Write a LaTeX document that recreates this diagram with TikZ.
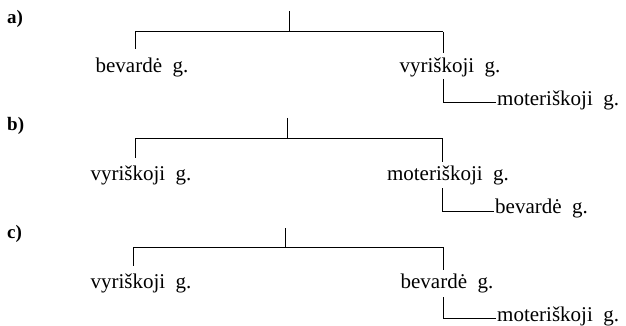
\documentclass[tikz,border=0pt]{standalone}
\usepackage{fontspec}
\setmainfont{Liberation Serif}
\begin{document}
\begin{tikzpicture}[x=1pt,y=-1pt,
  link/.style={line width=1pt, line cap=butt},
  txt/.style={font=\fontsize{21}{25}\selectfont, inner sep=0pt, anchor=base},
  txtw/.style={font=\fontsize{21}{25}\selectfont, inner sep=0pt, anchor=base west},
  lbl/.style={font=\fontsize{19}{23}\selectfont\bfseries, inner sep=0pt, anchor=west}]
\useasboundingbox (0,0) rectangle (626,326);
% ---------- a)
\node[lbl] (la) at (7,19) {a)};
\coordinate (aT) at (289,11);
\coordinate (aJ) at (289,32);
\coordinate (aL) at (135,32);
\coordinate (aR) at (443,32);
\coordinate (aLe) at (135,49);
\coordinate (aRe) at (443,53);
\coordinate (aS) at (443,79);
\coordinate (aE) at (496,103);
\node[txt] (aA) at (142,73) {bevardė\ \ g.};
\node[txt] (aB) at (450,73) {vyriškoji\ \ g.};
\node[txtw] (aC) at (497,106) {moteriškoji\ \ g.};
\draw[link] (aT) -- (aJ);
\draw[link] (aL) -- (aR);
\draw[link] (aL) -- (aLe);
\draw[link] (aR) -- (aRe);
\draw[link] (aS) |- (aE);
% ---------- b)
\node[lbl] (lb) at (7,126) {b)};
\coordinate (bT) at (287,118);
\coordinate (bJ) at (287,138);
\coordinate (bL) at (135,138);
\coordinate (bR) at (442,138);
\coordinate (bLe) at (135,158);
\coordinate (bRe) at (442,162);
\coordinate (bS) at (442,188);
\coordinate (bE) at (494,211);
\node[txt] (bA) at (141,180) {vyriškoji\ \ g.};
\node[txt] (bB) at (448,180) {moteriškoji\ \ g.};
\node[txtw] (bC) at (495,213) {bevardė\ \ g.};
\draw[link] (bT) -- (bJ);
\draw[link] (bL) -- (bR);
\draw[link] (bL) -- (bLe);
\draw[link] (bR) -- (bRe);
\draw[link] (bS) |- (bE);
% ---------- c)
\node[lbl] (lc) at (7,234) {c)};
\coordinate (cT) at (285,228);
\coordinate (cJ) at (285,247);
\coordinate (cL) at (133,247);
\coordinate (cR) at (443,247);
\coordinate (cLe) at (133,266);
\coordinate (cRe) at (443,270);
\coordinate (cS) at (443,297);
\coordinate (cE) at (496,318);
\node[txt] (cA) at (141,288) {vyriškoji\ \ g.};
\node[txt] (cB) at (447,288) {bevardė\ \ g.};
\node[txtw] (cC) at (497,321) {moteriškoji\ \ g.};
\draw[link] (cT) -- (cJ);
\draw[link] (cL) -- (cR);
\draw[link] (cL) -- (cLe);
\draw[link] (cR) -- (cRe);
\draw[link] (cS) |- (cE);
\end{tikzpicture}
\end{document}
